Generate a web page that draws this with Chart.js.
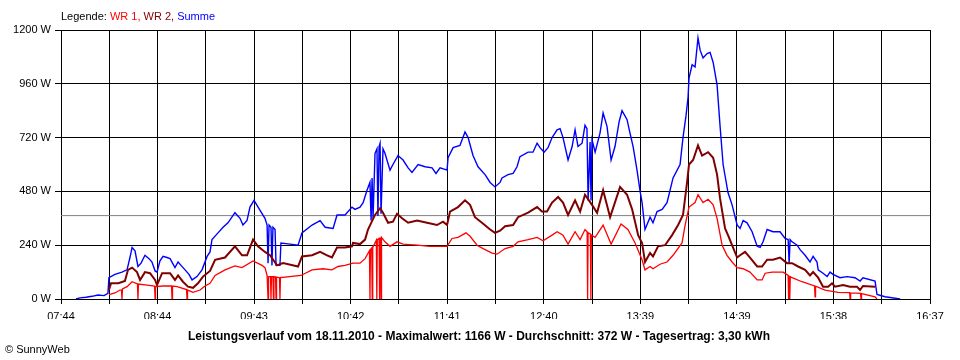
<!DOCTYPE html>
<html>
<head>
<meta charset="utf-8">
<script src="https://cdn.jsdelivr.net/npm/chart.js@4/dist/chart.umd.min.js"></script>
<style>
  html, body { margin: 0; padding: 0; background: #ffffff; }
  #wrap { width: 960px; height: 360px; }
</style>
</head>
<body>
<div id="wrap"><canvas id="c" width="960" height="360"></canvas></div>
<script>
// ---- DATA (times = minutes after 07:44) ----
const tickLabels = ["07:44","08:44","09:43","10:42","11:41","12:40","13:39","14:39","15:38","16:37"];
const spanMinutes = 533;            // 07:44 -> 16:37
const yTicks = [0, 240, 480, 720, 960, 1200];
const averageW = 372;

const sumMin = [9.2,11.7,15.3,19.0,22.7,26.4,28.8,29.4,33.1,37.4,
  40.5,42.3,43.6,45.4,47.2,49.1,51.5,54.0,55.8,57.7,
  58.9,60.7,62.6,65.0,66.9,69.9,71.8,73.6,76.1,78.5,
  80.4,83.4,86.5,89.6,91.4,92.6,96.3,99.4,102.4,106.7,
  109.8,111.6,114.1,115.9,118.4,122.1,125.1,126.4,127.0,127.6,
  128.8,129.4,130.0,131.3,131.9,134.3,134.9,140.5,145.4,147.8,
  154.0,158.9,162.0,166.9,169.3,174.2,178.5,180.3,183.4,185.3,
  187.7,189.5,190.2,190.8,191.4,192.6,193.8,194.4,195.1,195.7,
  196.3,197.5,198.7,201.8,203.6,206.7,209.8,212.9,215.3,219.0,
  223.3,227.6,230.0,232.5,236.8,237.4,240.5,244.7,247.8,249.7,
  252.7,255.8,260.1,263.2,266.2,269.3,270.5,274.2,277.3,279.7,
  281.5,286.5,289.5,292.0,293.8,296.3,298.7,301.2,304.3,306.1,
  307.9,311.0,313.5,315.3,317.1,319.6,321.4,322.6,323.3,324.5,
  325.1,325.7,327.6,330.6,332.5,334.9,337.4,339.8,342.3,344.1,
  347.2,349.0,350.9,353.3,355.2,356.4,358.2,361.3,363.1,365.6,
  368.7,371.7,375.4,379.7,381.5,383.4,384.6,385.2,387.1,388.9,
  390.7,392.0,393.8,396.3,398.1,400.0,402.4,404.2,406.1,409.1,
  411.6,414.7,416.5,418.4,420.8,423.9,427.0,428.8,430.6,433.1,
  436.7,441.0,444.1,446.0,446.6,447.2,448.4,451.5,453.3,456.4,
  459.4,461.3,463.7,464.4,467.4,469.9,471.7,473.5,477.8,482.1,
  487.0,490.1,491.9,499.3,500.5,505.4,514.7];
const sumW = [0,5,8,12,18,15,25,95,110,120,
  130,185,230,215,145,160,195,180,165,125,
  120,170,190,185,180,140,165,150,130,110,
  85,100,130,190,210,265,295,320,340,385,
  360,330,350,410,440,395,360,330,160,330,
  320,150,320,310,150,150,250,245,240,295,
  330,350,320,315,375,375,410,400,410,430,
  485,520,350,540,360,650,670,370,680,695,
  380,670,650,575,600,640,620,585,565,600,
  590,585,560,585,575,630,675,685,745,720,
  640,590,555,520,500,520,540,555,560,590,
  635,655,655,695,675,655,675,720,755,760,
  720,620,680,755,680,695,775,760,440,700,
  440,710,655,740,830,770,620,680,790,840,
  800,740,680,575,480,430,310,365,340,390,
  400,430,540,600,720,820,900,985,1045,1035,
  1165,1110,1075,1095,1100,1055,955,775,600,475,
  420,330,315,350,340,300,235,230,255,310,
  300,300,270,265,160,265,255,240,220,195,
  165,190,165,130,115,100,120,110,95,100,
  95,80,95,80,20,10,0];

const wr2Min = [29.4,30.7,35.2,39.2,41.1,43.6,46.6,48.5,51.5,54.6,
  57.7,58.9,62.0,66.9,69.9,71.8,74.8,77.9,81.0,84.0,
  87.1,91.4,94.5,100.6,106.7,111.0,114.1,117.8,120.8,125.1,
  128.2,132.5,136.2,145.4,147.8,154.0,158.9,163.2,166.2,169.3,
  174.2,178.5,179.1,183.4,186.5,188.3,192.6,195.7,197.5,200.6,
  203.6,206.1,209.2,212.9,218.4,224.5,230.6,234.3,236.8,238.6,
  243.5,247.8,250.9,253.9,258.2,263.2,266.2,269.3,272.4,277.3,
  280.3,286.5,292.0,295.0,298.1,301.2,304.9,307.9,311.0,315.3,
  318.4,321.4,325.7,328.8,332.5,336.8,342.9,347.2,350.3,354.0,
  356.4,358.2,361.3,363.1,366.2,370.5,374.8,378.5,381.5,384.0,
  385.2,387.7,390.7,393.2,396.9,400.0,402.4,404.2,407.3,409.1,
  411.6,414.7,416.5,419.6,422.6,427.0,430.0,433.1,436.7,441.0,
  445.3,448.4,452.1,456.4,459.4,461.3,464.4,467.4,470.5,472.9,
  474.8,479.7,483.9,488.2,490.1,491.9,499.3];
const wr2W = [40,70,70,80,130,140,120,85,120,115,
  85,62,115,115,85,105,77,55,50,70,
  100,125,175,185,235,195,195,265,235,210,
  195,150,160,145,190,195,210,195,185,230,
  230,235,250,245,265,310,375,405,385,340,
  345,380,360,340,350,340,330,345,330,390,
  410,440,420,365,340,310,295,305,325,330,
  365,385,410,390,390,430,455,430,375,440,
  390,465,420,385,485,365,500,465,400,285,
  250,165,205,190,235,240,285,330,375,520,
  600,620,685,640,655,630,555,450,315,285,
  240,185,195,210,185,145,145,175,175,185,
  160,160,145,130,105,120,95,55,55,70,
  55,62,55,55,40,58,55];

const wr1Min = [29.4,33.1,36.2,37.1,37.4,37.7,40.5,43.6,46.9,47.2,
  47.5,52.8,57.4,57.7,58.0,62.6,67.8,68.1,68.4,71.2,
  77.0,77.3,77.6,81.0,85.3,88.3,91.4,94.5,100.6,106.7,
  111.0,117.8,123.3,125.1,126.4,127.0,127.3,128.5,128.8,129.1,
  130.0,130.3,130.6,131.6,131.9,132.2,134.0,134.3,134.6,147.2,
  154.0,160.7,166.2,169.9,174.2,179.1,183.4,186.5,189.2,189.5,
  189.8,190.6,190.9,191.2,193.4,193.7,194.0,195.1,195.4,195.7,
  196.0,196.3,196.6,198.7,201.8,206.1,209.8,218.4,226.3,232.5,
  236.8,239.8,243.5,248.4,250.9,255.2,258.9,264.4,267.4,272.4,
  277.3,280.3,286.5,292.0,295.7,301.2,304.3,307.9,311.0,315.3,
  318.4,321.4,322.7,323.0,323.3,324.7,325.0,325.3,327.6,332.5,
  337.4,343.5,347.7,352.1,356.4,358.2,361.3,363.1,367.4,371.7,
  375.4,380.9,382.8,385.2,388.9,390.7,393.8,396.9,400.0,402.4,
  405.5,408.5,411.6,414.7,418.4,422.6,427.0,430.0,431.9,436.2,
  442.9,446.0,446.3,446.6,447.0,447.3,448.4,454.5,462.2,462.5,
  462.8,468.6,476.6,483.7,484.0,484.3,490.4,490.7,491.0,499.3,
  500.5];
const wr1W = [20,27,40,40,0,45,55,77,67,0,
  67,62,58,0,55,58,58,0,58,55,
  42,0,40,30,40,58,70,105,130,148,
  140,170,150,140,105,0,100,100,0,100,
  100,0,100,98,0,98,95,0,95,105,
  130,135,130,145,150,160,160,180,215,0,
  220,228,0,230,262,0,265,270,0,272,
  274,0,275,255,235,255,245,240,235,235,
  235,270,275,295,280,240,225,205,200,225,
  235,255,265,275,260,285,300,285,245,300,
  265,310,300,0,295,290,0,285,275,330,
  245,335,310,250,175,130,145,135,155,165,
  195,250,330,410,430,465,430,445,420,360,
  240,195,165,140,135,120,85,85,115,120,
  120,105,0,103,0,100,95,77,58,10,
  57,40,30,28,0,27,25,0,24,10,
  0];

// ---- CHART ----
const toPoints = (xs, ys) => xs.map((x, i) => ({ x: x, y: ys[i] }));

const textPlugin = {
  id: 'texts',
  afterDraw(chart) {
    const ctx = chart.ctx;
    ctx.save();
    ctx.textBaseline = 'middle';
    // legend line
    ctx.font = '11px "Liberation Sans", Arial, sans-serif';
    ctx.textAlign = 'left';
    let x = 61;
    const parts = [["Legende: ", "#000000"], ["WR 1, ", "#ff0000"], ["WR 2, ", "#800000"], ["Summe", "#0000ff"]];
    for (const [t, c] of parts) {
      ctx.fillStyle = c;
      ctx.fillText(t, x, 16.5);
      x += ctx.measureText(t).width;
    }
    // bottom title
    ctx.font = 'bold 12px "Liberation Sans", Arial, sans-serif';
    ctx.fillStyle = '#000000';
    ctx.textAlign = 'center';
    ctx.fillText('Leistungsverlauf vom 18.11.2010 - Maximalwert: 1166 W - Durchschnitt: 372 W - Tagesertrag: 3,30 kWh', 479, 337);
    // credit
    ctx.font = '11px "Liberation Sans", Arial, sans-serif';
    ctx.textAlign = 'left';
    ctx.fillText('\u00A9 SunnyWeb', 5, 350);
    ctx.restore();
  }
};

new Chart(document.getElementById('c'), {
  type: 'line',
  data: {
    datasets: [
      { label: 'Durchschnitt', data: [{x: 0, y: averageW}, {x: spanMinutes, y: averageW}],
        borderColor: '#808080', borderWidth: 1, pointRadius: 0, order: 10 },
      { label: 'Summe', data: toPoints(sumMin, sumW), borderColor: '#0000ff', borderWidth: 1.4, pointRadius: 0, order: 3 },
      { label: 'WR 2', data: toPoints(wr2Min, wr2W), borderColor: '#800000', borderWidth: 2, pointRadius: 0, order: 2 },
      { label: 'WR 1', data: toPoints(wr1Min, wr1W), borderColor: '#ff0000', borderWidth: 1.3, pointRadius: 0, order: 1 }
    ]
  },
  options: {
    responsive: false,
    animation: false,
    devicePixelRatio: 1,
    layout: { padding: { top: 30, right: 30, bottom: 41, left: 0 } },
    plugins: { legend: { display: false }, tooltip: { enabled: false } },
    elements: { line: { tension: 0 } },
    scales: {
      x: {
        type: 'linear',
        min: 0,
        max: spanMinutes,
        afterBuildTicks(scale) {
          scale.ticks = Array.from({ length: 19 }, (_, i) => ({ value: i * spanMinutes / 18 }));
        },
        afterFit(scale) { scale.height = 20; },
        ticks: {
          autoSkip: false, maxRotation: 0, padding: 6,
          color: '#000000',
          font: { family: '"Liberation Sans", Arial, sans-serif', size: 11 },
          callback: (v, i) => (i % 2 === 0 ? tickLabels[i / 2] : '')
        },
        grid: { color: '#000000', lineWidth: 1, tickLength: 5 },
        border: { color: '#000000', width: 1 }
      },
      y: {
        min: 0,
        max: 1200,
        afterBuildTicks(scale) {
          scale.ticks = yTicks.map(v => ({ value: v }));
        },
        afterFit(scale) { scale.width = 61; },
        ticks: {
          padding: 4, color: '#000000',
          font: { family: '"Liberation Sans", Arial, sans-serif', size: 11 },
          callback: v => v + ' W'
        },
        grid: { color: '#000000', lineWidth: 1, tickLength: 6 },
        border: { color: '#000000', width: 1 }
      }
    }
  },
  plugins: [textPlugin]
});
</script>
</body>
</html>
